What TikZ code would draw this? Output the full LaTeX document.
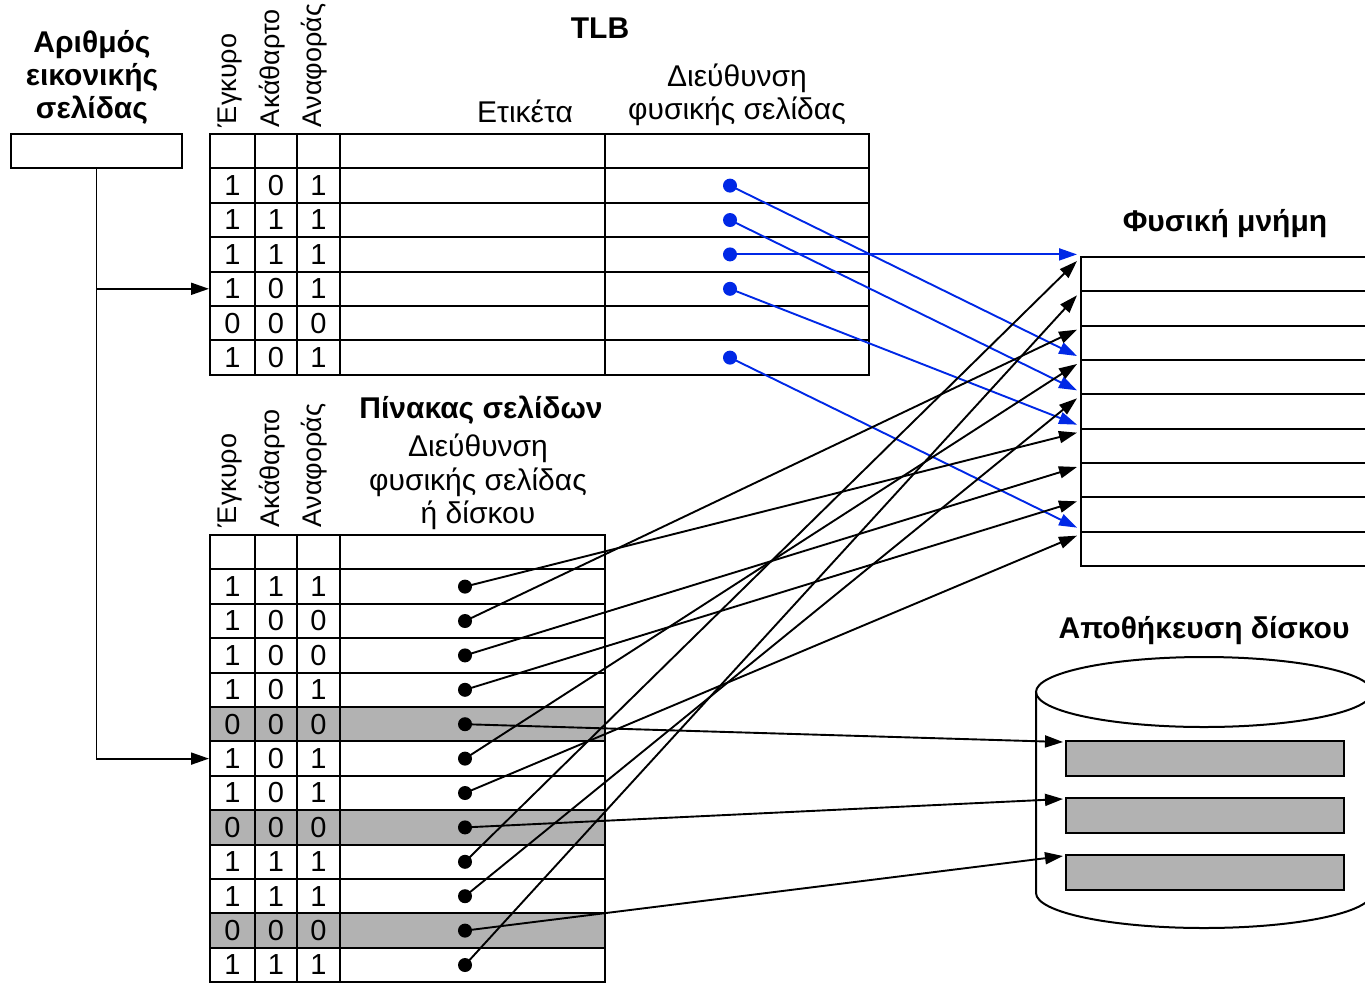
\documentclass[tikz,border=0pt]{standalone}
\usepackage{fontspec}
\setmainfont{Liberation Sans}
\usetikzlibrary{arrows.meta,calc}
\definecolor{linkblue}{RGB}{0,40,230}
\definecolor{slotgray}{RGB}{178,178,178}
\begin{document}
\begin{tikzpicture}[x=1pt,y=-1pt,line width=2pt,
  txt/.style={font=\fontsize{30}{33.5}\selectfont, inner sep=0pt, align=center},
  heading/.style={txt, font=\fontsize{30}{33}\selectfont\bfseries},
  vlabel/.style={font=\fontsize{27}{30}\selectfont, rotate=90, anchor=west, inner sep=0pt},
  cell/.style={draw, anchor=north west, minimum height=34.4pt, inner sep=0pt, font=\fontsize{29}{33}\selectfont},
  dot/.style={circle, fill, inner sep=0pt, minimum size=14pt},
  link/.style={-{Triangle[length=18pt,width=12pt]}, line width=1.9pt},
  memrow/.style={draw, anchor=north west, minimum width=330pt, minimum height=34.33pt, inner sep=0pt},
  slot/.style={draw, fill=slotgray, anchor=north west, minimum width=278pt, minimum height=35pt, inner sep=0pt}
]
\useasboundingbox (0,0) rectangle (1365,983);
\clip (0,0) rectangle (1365,983);

% virtual page number register
\node[heading] (vpnlabel) at (92,77) {Αριθμός\\εικονικής\\σελίδας};
\node[draw, anchor=north west, minimum width=171pt, minimum height=34pt, inner sep=0pt] (vpn) at (10,133) {};

% ---------- TLB ----------
\node[heading] (tlbtitle) at (600,28) {TLB};
\node[vlabel] (tlbvh) at (230,128) {Έγκυρο};
\node[vlabel] (tlbdh) at (272,128) {Ακάθαρτο};
\node[vlabel] (tlbrh) at (314,128) {Αναφοράς};
\node[txt] (tlbtagh) at (525,111) {Ετικέτα};
\node[txt] (tlbppnh) at (737,95) {Διεύθυνση\\φυσικής σελίδας};

\node[cell, minimum width=45pt] (tlbv0) at (209,133) {};
\node[cell, minimum width=42pt] (tlbd0) at (254,133) {};
\node[cell, minimum width=43pt] (tlbr0) at (296,133) {};
\node[cell, minimum width=265pt] (tlbt0) at (339,133) {};
\node[cell, minimum width=264pt] (tlbp0) at (604,133) {};
\foreach \a/\b/\c [count=\i] in {1/0/1,1/1/1,1/1/1,1/0/1,0/0/0,1/0/1}{
  \pgfmathsetmacro\yy{133+34.4*\i}
  \node[cell, minimum width=45pt] (tlbv\i) at (209,\yy) {\a};
  \node[cell, minimum width=42pt] (tlbd\i) at (254,\yy) {\b};
  \node[cell, minimum width=43pt] (tlbr\i) at (296,\yy) {\c};
  \node[cell, minimum width=265pt] (tlbt\i) at (339,\yy) {};
  \node[cell, minimum width=264pt] (tlbp\i) at (604,\yy) {};
}
\foreach \i in {1,2,3,4,6}{
  \node[dot, linkblue] (tb\i) at ($(tlbp\i.center)+(-7,0)$) {};
}

% ---------- page table ----------
\node[heading] (pttitle) at (481,410) {Πίνακας σελίδων};
\node[txt] (ptaddrh) at (478,482) {Διεύθυνση\\φυσικής σελίδας\\ή δίσκου};
\node[vlabel] (ptvh) at (230,528) {Έγκυρο};
\node[vlabel] (ptdh) at (272,528) {Ακάθαρτο};
\node[vlabel] (ptrh) at (314,528) {Αναφοράς};

\node[cell, minimum width=45pt] (ptv0) at (209,534) {};
\node[cell, minimum width=42pt] (ptd0) at (254,534) {};
\node[cell, minimum width=43pt] (ptr0) at (296,534) {};
\node[cell, minimum width=265pt] (pta0) at (339,534) {};
\foreach \a/\b/\c/\f [count=\i] in {1/1/1/white,1/0/0/white,1/0/0/white,1/0/1/white,
    0/0/0/slotgray,1/0/1/white,1/0/1/white,0/0/0/slotgray,1/1/1/white,1/1/1/white,
    0/0/0/slotgray,1/1/1/white}{
  \pgfmathsetmacro\yy{534+34.4*\i}
  \node[cell, fill=\f, minimum width=45pt] (ptv\i) at (209,\yy) {\a};
  \node[cell, fill=\f, minimum width=42pt] (ptd\i) at (254,\yy) {\b};
  \node[cell, fill=\f, minimum width=43pt] (ptr\i) at (296,\yy) {\c};
  \node[cell, fill=\f, minimum width=265pt] (pta\i) at (339,\yy) {};
  \node[dot] (pd\i) at ($(pta\i.center)+(-7.5,0)$) {};
}

% lookup paths from the page number
\draw[link] (vpn.south) |- (ptv6.west);
\draw[link] (vpn.south |- tlbv4.west) -- (tlbv4.west);

% ---------- physical memory ----------
\node[heading] (memtitle) at (1225,224) {Φυσική μνήμη};
\foreach \i in {1,...,9}{
  \pgfmathsetmacro\yy{256+34.33*(\i-1)}
  \node[memrow] (m\i) at (1080,\yy) {};
}

% ---------- disk storage ----------
\node[heading] (disktitle) at (1204,631) {Αποθήκευση δίσκου};
\draw (1036,692) -- (1036,893) arc[start angle=180, end angle=360, x radius=168pt, y radius=35pt] -- (1372,692);
\draw (1204,692) ellipse [x radius=168pt, y radius=35pt];
\node[slot] (d1) at (1065,740) {};
\node[slot] (d2) at (1065,797) {};
\node[slot] (d3) at (1065,854) {};

% ---------- TLB translations ----------
\draw[link, linkblue] (tb1.center) -- ($(m4.north west)+(-3,-3)$);
\draw[link, linkblue] (tb2.center) -- ($(m5.north west)+(-3,-3)$);
\draw[link, linkblue] (tb3.center) -- ($(tb3.center -| m1.west)+(-3,0)$);
\draw[link, linkblue] (tb4.center) -- ($(m6.north west)+(-3,-3)$);
\draw[link, linkblue] (tb6.center) -- ($(m9.north west)+(-3,-3)$);

% ---------- page table translations ----------
\foreach \p/\m in {1/6,2/3,3/7,4/8,6/4,7/9,9/1,10/5,12/2}{
  \draw[link] (pd\p.center) -- ($(m\m.north west)+(-3,5)$);
}
\draw[link] (pd5.center) -- ($(d1.north west)+(-2,2)$);
\draw[link] (pd8.center) -- ($(d2.north west)+(-2,2)$);
\draw[link] (pd11.center) -- ($(d3.north west)+(-2,2)$);
\end{tikzpicture}
\end{document}
